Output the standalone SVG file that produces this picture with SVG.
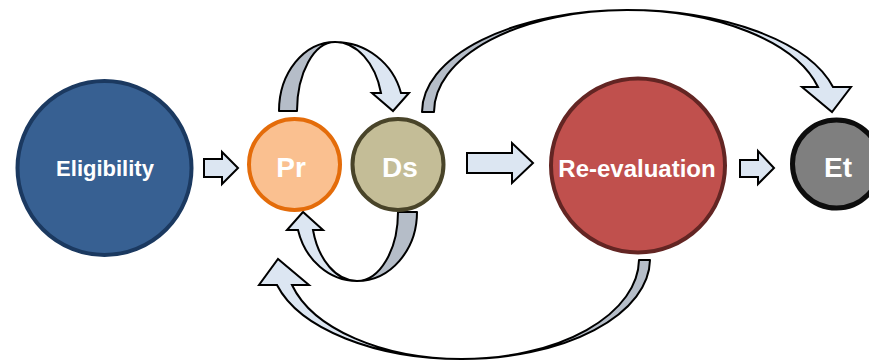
<svg xmlns="http://www.w3.org/2000/svg" width="869" height="362" viewBox="0 0 869 362">
<style>
.lbl{font-family:"Liberation Sans",Arial,sans-serif;font-weight:bold;fill:#ffffff;text-anchor:middle}
.blk{fill:#dce6f2;stroke:#000;stroke-width:2;stroke-linejoin:miter}
.back{fill:#b5bdc8;stroke:#000;stroke-width:2;stroke-linejoin:round}
.front{fill:#dce6f2;stroke:#000;stroke-width:2;stroke-linejoin:miter}
</style>
<rect width="869" height="362" fill="#ffffff"/>
<g id="connectors">
  <path class="blk" d="M204,159 H222 V152 L238,168 L222,184 V177 H204 Z"/>
  <path class="blk" d="M467,153 H512 V143 L533,163 L512,183 V173 H467 Z"/>
  <path class="blk" d="M740,160 H758 V151 L774,168 L758,184 V177 H740 Z"/>
  <g id="loop-top">
    <path class="back" d="M279,111 A56,69 0 0 1 335,42 A38,69 0 0 0 297,111 Z"/>
    <path class="front" d="M335,42 A68.4,69 0 0 1 401,93 L409,93 L393,111 L372,93 L381,93 A47.6,69 0 0 0 335,42 Z"/>
  </g>
  <g id="loop-bottom">
    <path class="back" d="M417,212 A60,69 0 0 1 357,281 A41,69 0 0 0 398,212 Z"/>
    <path class="front" d="M357,281 A61,69 0 0 1 298,230 L287,230 L303,212 L323,230 L313,230 A45.6,69 0 0 0 357,281 Z"/>
  </g>
  <g id="arc-top">
    <path class="back" d="M422,112 A205,102 0 0 1 627,10 A193,102 0 0 0 434,112 Z"/>
    <path class="front" d="M627,10 A212.5,102 0 0 1 833,87 L851,87 L832,112 L802,87 L818,87 A197,102 0 0 0 627,10 Z"/>
  </g>
  <g id="arc-bottom">
    <path class="back" d="M650,260 A188,100 0 0 1 462,359 A177,100 0 0 0 639,260 Z"/>
    <path class="front" d="M462,359 A191,100 0 0 1 277,285 L259,285 L278,259 L309,285 L292,285 A175.6,100 0 0 0 462,359 Z"/>
  </g>
</g>
<g id="eligibility">
  <circle cx="104.5" cy="168" r="87" fill="#376092" stroke="#1b3960" stroke-width="4"/>
  <text class="lbl" x="105" y="176" font-size="22">Eligibility</text>
</g>
<g id="pr">
  <circle cx="294.5" cy="164.5" r="45.5" fill="#fac090" stroke="#e46c0a" stroke-width="4"/>
  <text class="lbl" x="291" y="177" font-size="28">Pr</text>
</g>
<g id="ds">
  <circle cx="398" cy="164.5" r="45.5" fill="#c4bd97" stroke="#494429" stroke-width="4"/>
  <text class="lbl" x="400" y="177" font-size="28">Ds</text>
</g>
<g id="reevaluation">
  <circle cx="638" cy="165.5" r="87" fill="#c0504d" stroke="#632523" stroke-width="4"/>
  <text class="lbl" x="637" y="177" font-size="24">Re-evaluation</text>
</g>
<g id="et">
  <circle cx="836.5" cy="164" r="44" fill="#7f7f7f" stroke="#0d0d0d" stroke-width="5"/>
  <text class="lbl" x="838" y="177" font-size="28">Et</text>
</g>
</svg>
